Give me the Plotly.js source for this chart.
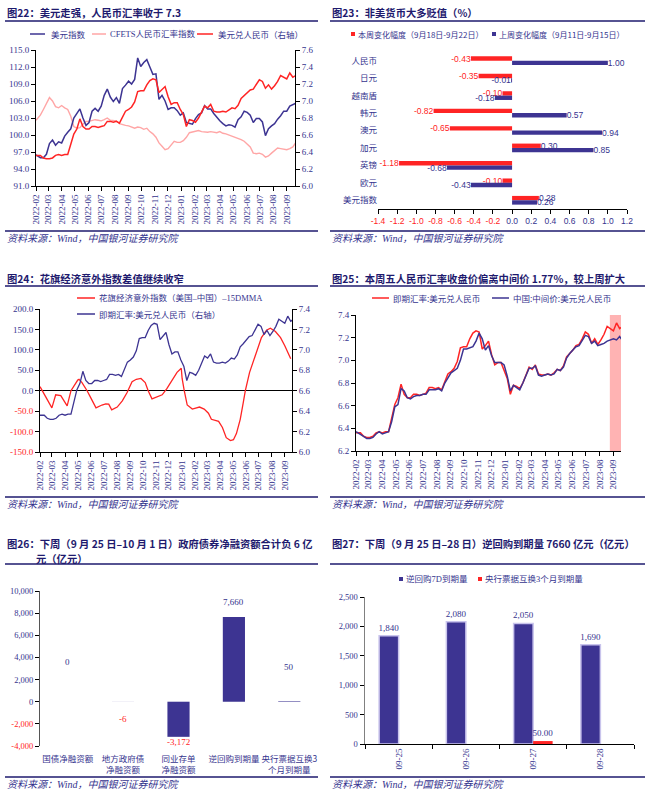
<!DOCTYPE html>
<html><head><meta charset="utf-8">
<script src="https://cdn.plot.ly/plotly-3.0.1.min.js"></script>
<style>html,body{margin:0;padding:0;background:#fff}#chart{width:648px;height:797px}</style>
</head><body><div id="chart"></div>
<script>
// ---------------- DATA ----------------
const weekDates=['2022-02-01','2022-02-11','2022-02-18','2022-02-25','2022-03-04','2022-03-11','2022-03-18','2022-03-25','2022-04-01','2022-04-08','2022-04-15','2022-04-22','2022-04-29','2022-05-06','2022-05-13','2022-05-20','2022-05-27','2022-06-03','2022-06-10','2022-06-17','2022-06-24','2022-07-01','2022-07-08','2022-07-15','2022-07-22','2022-07-29','2022-08-05','2022-08-12','2022-08-19','2022-08-26','2022-09-02','2022-09-09','2022-09-16','2022-09-23','2022-09-30','2022-10-07','2022-10-14','2022-10-21','2022-10-28','2022-11-04','2022-11-11','2022-11-18','2022-11-25','2022-12-02','2022-12-09','2022-12-16','2022-12-23','2022-12-30','2023-01-06','2023-01-13','2023-01-20','2023-01-27','2023-02-03','2023-02-10','2023-02-17','2023-02-24','2023-03-03','2023-03-10','2023-03-17','2023-03-24','2023-03-31','2023-04-07','2023-04-14','2023-04-21','2023-04-28','2023-05-05','2023-05-12','2023-05-19','2023-05-26','2023-06-02','2023-06-09','2023-06-16','2023-06-23','2023-06-30','2023-07-07','2023-07-14','2023-07-21','2023-07-28','2023-08-04','2023-08-11','2023-08-18','2023-08-25','2023-09-01','2023-09-08','2023-09-15','2023-09-22'];
// 美元指数
const usdIndex=[96.5,96.0,96.0,96.6, 98.5,99.1,98.2,98.8, 98.6,99.8,100.5,101.1,103.0, 103.7,104.6,103.0,101.7, 102.2,104.2,104.7,104.2, 105.1,107.0,108.1,106.7,105.9, 106.6,105.6,108.2,108.8, 109.5,109.0,109.8,113.6,112.1, 112.8,113.3,112.0,110.7, 110.8,106.3,107.0,106.0, 104.5,104.8,104.8,104.3,103.5, 103.9,102.2,102.0,101.9, 102.9,103.6,103.9,105.2, 104.6,104.6,103.8,103.1,102.5, 102.0,101.6,101.8,101.7, 101.4,102.7,103.2,104.2, 104.0,103.5,102.2,102.9,102.9, 102.3,99.9,101.1,101.6, 102.0,102.8,103.4,104.2, 104.2,105.1,105.3,105.6];
// CFETS人民币汇率指数
const cfetsIndex=[102.6,103.5,104.5,105.5, 106.6,106.0,105.0,104.8, 105.2,104.8,104.5,103.3,101.5, 101.2,101.3,101.9,102.4, 102.4,102.6,102.7,102.6, 102.5,102.7,103.0,102.6,102.6, 102.5,102.0,101.8,101.7, 101.6,101.4,101.2,101.4,101.3, 101.0,101.2,100.6,100.2, 99.6,98.6,98.0,97.4, 97.6,98.3,98.9,98.7,98.7, 99.0,99.6,100.4,100.5, 100.6,100.8,100.6,100.5, 100.5,100.6,100.5,100.4,100.6, 100.3,100.2,100.0,99.9, 99.7,99.5,99.2,98.9, 98.4,97.9,96.8,96.7,96.8, 96.6,96.1,96.3,96.8, 97.3,97.7,97.6,97.5, 97.4,97.6,97.9,98.7];
// 即期汇率：美元兑人民币
const usdcnySpot=[6.36,6.36,6.33,6.32, 6.32,6.33,6.36,6.37, 6.36,6.37,6.37,6.50,6.61, 6.67,6.79,6.70,6.67, 6.67,6.70,6.70,6.69, 6.70,6.71,6.76,6.76,6.75, 6.76,6.74,6.82,6.88, 6.90,6.93,6.99,7.11,7.12, 7.12,7.19,7.24,7.26, 7.25,7.10,7.13,7.17, 7.05,6.96,6.98,6.98,6.90, 6.84,6.70,6.78,6.77, 6.75,6.80,6.87,6.94, 6.92,6.96,6.88,6.87,6.87, 6.88,6.87,6.89,6.92, 6.91,6.95,7.03,7.06, 7.09,7.13,7.14,7.19,7.25, 7.23,7.15,7.19,7.14, 7.18,7.23,7.30,7.28, 7.26,7.33,7.28,7.30];
// 中间价：美元兑人民币
const usdcnyMid=[6.37,6.35,6.33,6.31, 6.31,6.32,6.35,6.37, 6.35,6.36,6.37,6.46,6.59, 6.61,6.75,6.73,6.67, 6.66,6.68,6.69,6.69, 6.70,6.70,6.74,6.74,6.74, 6.75,6.73,6.80,6.85, 6.89,6.91,6.93,7.00,7.10, 7.10,7.11,7.12,7.17, 7.24,7.19,7.09,7.13, 7.04,6.98,6.98,6.98,6.96, 6.86,6.73,6.78,6.76, 6.74,6.80,6.86,6.93, 6.93,6.95,6.87,6.86,6.87, 6.88,6.87,6.88,6.92, 6.91,6.94,7.02,7.06, 7.09,7.12,7.13,7.17,7.22, 7.21,7.15,7.17,7.13, 7.14,7.15,7.17,7.18, 7.19,7.18,7.21,7.17];
// 花旗经济意外指数（美国-中国）-15DMMA
const citiDates=['2022-02-01','2022-03-01','2022-03-10','2022-03-22','2022-04-06','2022-04-15','2022-05-01','2022-05-04','2022-05-11','2022-05-18','2022-05-23','2022-06-02','2022-06-13','2022-06-27','2022-07-06','2022-07-13','2022-07-20','2022-08-02','2022-08-14','2022-08-25','2022-09-06','2022-09-16','2022-09-27','2022-10-07','2022-10-14','2022-10-23','2022-11-04','2022-11-16','2022-11-27','2022-12-09','2022-12-21','2022-12-31','2023-01-02','2023-01-07','2023-01-14','2023-01-26','2023-02-12','2023-02-23','2023-03-05','2023-03-12','2023-03-29','2023-04-07','2023-04-16','2023-04-26','2023-05-03','2023-05-10','2023-05-19','2023-05-26','2023-05-31','2023-06-10','2023-06-24','2023-07-08','2023-07-20','2023-07-29','2023-08-10','2023-08-22','2023-09-01','2023-09-10','2023-09-15'];
const citiDiff=[10,-42,-10,-12,-37,0,26,28,20,10,0,-20,-42,-35,-32,-33,-47,-40,-25,-5,22,28,30,20,0,-20,-15,-10,5,25,45,55,30,0,-35,-45,-40,-45,-55,-70,-75,-90,-115,-122,-120,-105,-70,-30,0,45,90,130,148,153,145,130,110,90,78];
// 图23
const p2Cats=['人民币','日元','越南盾','韩元','澳元','加元','英镑','欧元','美元指数'];
const p2ThisWeek=[-0.43,-0.35,-0.10,-0.82,-0.65,0.30,-1.18,-0.10,0.28];
const p2LastWeek=[1.00,-0.01,-0.18,0.57,0.94,0.85,-0.68,-0.43,0.26];
const p2Ticks=[-1.4,-1.2,-1.0,-0.8,-0.6,-0.4,-0.2,0,0.2,0.4,0.6,0.8,1.0,1.2];
const p3LeftTicks=[-150,-100,-50,0,50,100,150,200];
const p4Highlight=['2023-08-24','2023-09-18'];
// 图26
const p5Cats=['国债净融资额','地方政府债<br>净融资额','同业存单<br>净融资额','逆回购到期量','央行票据互换3<br>个月到期量'];
const p5Vals=[0,-6,-3172,7660,50];
const p5Ticks=[-4000,-2000,0,2000,4000,6000,8000,10000];
const p5LabelShift=[40,-17,-5,15,34];
// 图27
const p6Dates=['09-25','09-26','09-27','09-28'];
const p6Repo=[1840,2080,2050,1690];
const p6Cbs=[0,0,50,0];

// ---------------- STYLE ----------------
const W=648,H=797;
const px=x=>x/W, py=y=>1-y/H;
const dom=(a,b)=>[a/W,b/W];
const vdom=(t,b)=>[1-b/H,1-t/H];
const NAVY='#3D3492',RED='#FF2424',PINK='#FFA6A6',TXT='#35348E',TITLE='#1E1A6E',HL='#FFB3B3';
const SERIF='Liberation Serif, Noto Sans CJK SC, serif';
const CJK='Noto Sans CJK SC, sans-serif';
const SANS='Liberation Sans, Noto Sans CJK SC, sans-serif';
const red=s=>'<span style="color:'+RED+'">'+s+'</span>';

function ax(o){return Object.assign({showgrid:false,zeroline:false,showline:true,linecolor:'#000',linewidth:1,ticks:'outside',ticklen:4,tickcolor:'#000',tickfont:{family:SERIF,size:9,color:TXT}},o);}
const dateAx=(d,anchor,range)=>ax({domain:d,anchor:anchor,type:'date',range:range,dtick:'M1',tick0:'2022-02-01',tickformat:'%Y-%m',tickangle:-90});

// ---------------- TRACES ----------------
const base={hoverinfo:'skip',showlegend:false};
const traces=[
 Object.assign({x:weekDates,y:cfetsIndex,xaxis:'x',yaxis:'y',mode:'lines',line:{color:PINK,width:1.4},name:'CFETS人民币汇率指数'},base),
 Object.assign({x:weekDates,y:usdIndex,xaxis:'x',yaxis:'y',mode:'lines',line:{color:NAVY,width:1.5},name:'美元指数'},base),
 Object.assign({x:weekDates,y:usdcnySpot,xaxis:'x',yaxis:'y2',mode:'lines',line:{color:RED,width:1.5},name:'美元兑人民币（右轴）'},base),

 Object.assign({type:'bar',orientation:'h',x:p2ThisWeek,y:p2Cats,xaxis:'x2',yaxis:'y3',width:0.25,offset:-0.25,marker:{color:RED},
   text:p2ThisWeek.map(v=>v.toFixed(2)),textposition:'outside',constraintext:'none',cliponaxis:false,
   textfont:{family:SANS,size:8.5,color:p2ThisWeek.map(v=>v<0?RED:TXT)},name:'本周变化幅度'},base),
 Object.assign({type:'bar',orientation:'h',x:p2LastWeek,y:p2Cats,xaxis:'x2',yaxis:'y3',width:0.25,offset:0,marker:{color:NAVY},
   text:p2LastWeek.map(v=>v.toFixed(2)),textposition:'outside',constraintext:'none',cliponaxis:false,
   textfont:{family:SANS,size:8.5,color:TXT},name:'上周变化幅度'},base),

 Object.assign({x:citiDates,y:citiDiff,xaxis:'x3',yaxis:'y5',mode:'lines',line:{color:RED,width:1.3},name:'花旗'},base),
 Object.assign({x:weekDates,y:usdcnySpot,xaxis:'x3',yaxis:'y6',mode:'lines',line:{color:NAVY,width:1.3},name:'即期汇率'},base),

 Object.assign({x:weekDates,y:usdcnySpot,xaxis:'x4',yaxis:'y7',mode:'lines',line:{color:RED,width:1.5},name:'即期汇率:美元兑人民币'},base),
 Object.assign({x:weekDates,y:usdcnyMid,xaxis:'x4',yaxis:'y7',mode:'lines',line:{color:NAVY,width:1.5},name:'中国:中间价:美元兑人民币'},base),

 Object.assign({type:'bar',x:p5Cats,y:p5Vals,xaxis:'x5',yaxis:'y8',width:0.4,marker:{color:NAVY},name:'净融资'},base),

 Object.assign({type:'bar',x:p6Dates,y:p6Repo,xaxis:'x7',yaxis:'y9',width:0.29,offset:-0.29,marker:{color:NAVY,line:{color:'#C9C4EC',width:1.5}},
   text:p6Repo.map(v=>v.toLocaleString('en-US')),textposition:'outside',constraintext:'none',cliponaxis:false,
   textfont:{family:SERIF,size:9,color:TXT},name:'逆回购7D到期量'},base),
 Object.assign({type:'bar',x:p6Dates,y:p6Cbs,xaxis:'x7',yaxis:'y9',width:0.29,offset:0,marker:{color:RED},
   text:p6Cbs.map(v=>v>0?v.toFixed(2):''),textposition:'outside',constraintext:'none',cliponaxis:false,
   textfont:{family:SERIF,size:9,color:TXT},name:'央行票据互换3个月到期量'},base)
];

// ---------------- LAYOUT ----------------
const p2Range=[-1.4,1.2], p2Dom=[378,627];
const p2Zero=p2Dom[0]+(0-p2Range[0])/(p2Range[1]-p2Range[0])*(p2Dom[1]-p2Dom[0]);
const p5Range=[-4000,10000], p5VDom=vdom(591,746);
const p5Zero=p5VDom[0]+(0-p5Range[0])/(p5Range[1]-p5Range[0])*(p5VDom[1]-p5VDom[0]);

const annotations=[];
const shapes=[];
function txt(x,y,text,o){annotations.push(Object.assign({xref:'paper',yref:'paper',x:px(x),y:py(y),xanchor:'left',yanchor:'middle',text:text,showarrow:false,font:{family:CJK,size:8.5,color:TXT}},o||{}));}
function hline(x0,x1,y,color,w){shapes.push({type:'line',xref:'paper',yref:'paper',x0:px(x0),x1:px(x1),y0:py(y),y1:py(y),line:{color:color,width:w}});}
function sq(x,y,s,color){shapes.push({type:'rect',xref:'paper',yref:'paper',x0:px(x),x1:px(x+s),y0:py(y+s/2),y1:py(y-s/2),fillcolor:color,line:{width:0}});}
function title(x,y,t){txt(x,y,'<b>'+t+'</b>',{font:{family:CJK,size:10.3,color:TITLE}});}
function source(x,y){txt(x,y,'<i>资料来源：Wind，中国银河证券研究院</i>',{font:{family:SERIF,size:10,color:TXT}});}

// titles + rules
title(5,12,'图22：美元走强，人民币汇率收于 7.3'); hline(5,318,21,TITLE,1.5);
title(330,12,'图23：非美货币大多贬值（%）'); hline(330,645,21,TITLE,1.5);
title(5,278,'图24：花旗经济意外指数差值继续收窄'); hline(5,318,286,TITLE,1.5);
title(330,278,'图25：本周五人民币汇率收盘价偏离中间价 1.77%，较上周扩大'); hline(330,645,286,TITLE,1.5);
title(5,543,'图26：下周（9 月 25 日–10 月 1 日）政府债券净融资额合计负 6 亿');
title(34,558,'元（亿元）'); hline(5,318,564,TITLE,1.5);
title(330,543,'图27：下周（9 月 25 日–28 日）逆回购到期量 7660 亿元（亿元）'); hline(330,645,564,TITLE,1.5);
// sources
hline(5,318,231,TITLE,1.5); source(5,238);
hline(330,645,231,TITLE,1.5); source(330,238);
hline(5,318,497,TITLE,1.5); source(5,504);
hline(330,645,497,TITLE,1.5); source(330,504);
hline(5,318,777,TITLE,1.5); source(5,784);
hline(330,645,777,TITLE,1.5); source(330,784);

// legends (manual)
hline(30,45,34,NAVY,1.5); txt(49,34,'美元指数');
hline(92,106,34,PINK,1.5); txt(108,34,'CFETS人民币汇率指数',{font:{family:SERIF,size:8.5,color:TXT}});
hline(197,213,34,RED,1.5); txt(216,34,'美元兑人民币（右轴）');

sq(351,34,4,RED); txt(356,34,'本周变化幅度（9月18日-9月22日）',{font:{family:CJK,size:8,color:TXT}});
sq(492,34,4,NAVY); txt(497,34,'上周变化幅度（9月11日-9月15日）',{font:{family:CJK,size:8,color:TXT}});

hline(77,95,298,RED,1.5); txt(97,298,'花旗经济意外指数（美国–中国）–15DMMA',{font:{family:SERIF,size:8.5,color:TXT}});
hline(77,95,314,NAVY,1.5); txt(97,314,'即期汇率:美元兑人民币（右轴）');

hline(372,389,298,RED,1.5); txt(391,298,'即期汇率:美元兑人民币');
hline(492,509,298,NAVY,1.5); txt(511,298,'中国:中间价:美元兑人民币');

sq(399,579,4,NAVY); txt(404,579,'逆回购7D到期量',{font:{family:SERIF,size:8.5,color:TXT}});
sq(478,579,4,RED); txt(483,579,'央行票据互换3个月到期量',{font:{family:SERIF,size:8.5,color:TXT}});

// highlight in 图25
shapes.push({type:'rect',xref:'x4',yref:'y7 domain',x0:p4Highlight[0],x1:p4Highlight[1],y0:0,y1:1,fillcolor:HL,line:{width:0},layer:'below'});

// 图26 value labels
p5Vals.forEach((v,i)=>annotations.push({xref:'x5',yref:'y8',x:p5Cats[i],y:v,yshift:p5LabelShift[i],text:v.toLocaleString('en-US'),showarrow:false,
  font:{family:SERIF,size:9,color:v<0?RED:TXT}}));

const layout={
 width:W,height:H,margin:{l:0,r:0,t:0,b:0},paper_bgcolor:'#fff',plot_bgcolor:'rgba(0,0,0,0)',
 showlegend:false,hovermode:false,barmode:'group',
 // 图22
 xaxis:dateAx(dom(36,295),'y',['2022-02-01','2023-09-20']),
 yaxis:ax({domain:vdom(50,186),anchor:'x',range:[91,115],tick0:91,dtick:3,tickformat:'.1f'}),
 yaxis2:ax({overlaying:'y',side:'right',anchor:'x',range:[6.0,7.6],tick0:6,dtick:0.2,tickformat:'.1f'}),
 // 图23
 xaxis2:ax({domain:dom(p2Dom[0],p2Dom[1]),anchor:'y3',range:p2Range,tickvals:p2Ticks,
   ticktext:p2Ticks.map(v=>v<0?red(v.toFixed(1)):v.toFixed(1)),tickfont:{family:SANS,size:8.5,color:TXT}}),
 yaxis3:{domain:vdom(52,209),anchor:'x2',type:'category',categoryorder:'array',categoryarray:p2Cats,range:[8.5,-0.5],
   showline:false,ticks:'',showgrid:false,zeroline:false,tickfont:{family:CJK,size:8.5,color:TXT}},
 yaxis4:{overlaying:'y3',anchor:'free',position:px(p2Zero),type:'linear',range:[8.5,-0.5],tickvals:[-0.5,0.5,1.5,2.5,3.5,4.5,5.5,6.5,7.5,8.5],
   side:'right',ticks:'outside',ticklen:3,tickcolor:'#000',showticklabels:false,showline:true,linecolor:'#000',linewidth:1,showgrid:false,zeroline:false},
 // 图24
 xaxis3:dateAx(dom(40,292),'y5',['2022-02-01','2023-09-18']),
 yaxis5:ax({domain:vdom(309,452),anchor:'x3',range:[-150,200],tickvals:p3LeftTicks,
   ticktext:p3LeftTicks.map(v=>v<0?red(v.toFixed(1)):v.toFixed(1)),zeroline:true,zerolinecolor:'#000',zerolinewidth:1}),
 yaxis6:ax({overlaying:'y5',side:'right',anchor:'x3',range:[6.0,7.4],tick0:6,dtick:0.2,tickformat:'.1f'}),
 // 图25
 xaxis4:dateAx(dom(356,621),'y7',['2022-02-01','2023-09-18']),
 yaxis7:ax({domain:vdom(315,451),anchor:'x4',range:[6.2,7.4],tick0:6.2,dtick:0.2,tickformat:'.1f'}),
 // 图26
 xaxis5:{domain:dom(40,317),anchor:'y8',type:'category',categoryorder:'array',categoryarray:p5Cats,range:[-0.5,4.5],showline:false,ticks:'',
   showgrid:false,zeroline:false,tickangle:0,ticklabelstandoff:6,tickfont:{family:CJK,size:8.5,color:TXT}},
 xaxis6:{overlaying:'x5',anchor:'free',position:p5Zero,type:'linear',range:[-0.5,4.5],tickvals:[-0.5,0.5,1.5,2.5,3.5,4.5],
   ticks:'outside',ticklen:4,tickcolor:'#000',showticklabels:false,showline:true,linecolor:'#000',linewidth:1,showgrid:false,zeroline:false},
 yaxis8:ax({domain:p5VDom,anchor:'x5',range:p5Range,tickvals:p5Ticks,linecolor:'#555',
   ticktext:p5Ticks.map(v=>v<0?red(v.toLocaleString('en-US')):v.toLocaleString('en-US')),tickfont:{family:SERIF,size:8.5,color:TXT}}),
 // 图27
 xaxis7:ax({domain:dom(365,634),anchor:'y9',type:'category',categoryorder:'array',categoryarray:p6Dates,tickson:'boundaries',tickangle:-90,
   tickfont:{family:SERIF,size:9,color:TXT}}),
 yaxis9:ax({domain:vdom(597,744),anchor:'x7',range:[0,2500],dtick:500,tickformat:',',linecolor:'#808080',linewidth:1.5,tickfont:{family:SERIF,size:8.5,color:TXT}}),
 annotations:annotations,shapes:shapes
};
Plotly.newPlot('chart',traces,layout,{staticPlot:true,displayModeBar:false});
</script></body></html>
